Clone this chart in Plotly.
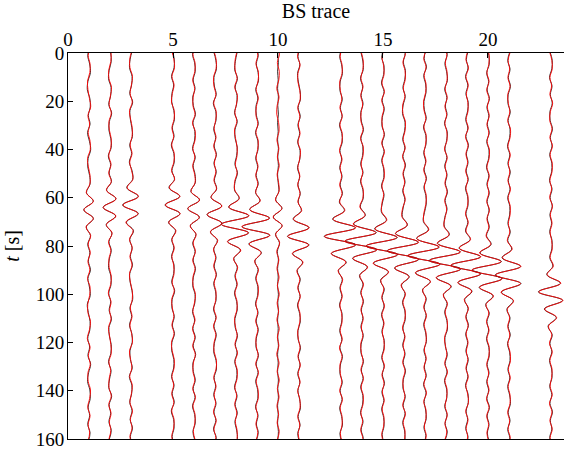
import plotly.graph_objects as go

# BS trace positions (traces 4, 12 and 22 absent)
positions = [1, 2, 3, 5, 6, 7, 8, 9, 10, 11, 13, 14, 15, 16, 17, 18, 19, 20, 21, 23]
# time of second sample of each trace [s]; samples every 160/45 s
t_offsets = [1.0, 0.0, 2.56, 2.56, 0.5, 3.0, 3.44, 0.89, 0.44, 1.33,
             1.33, 3.33, 1.78, 0.22, 2.22, 0.67, 2.67, 1.11, 3.11, 3.0]
sample_step = 160 / 45

# deflections in hundredths of trace spacing (black and red records)
black = [
    [4,-6,3,7,-5,-8,4,6,-3,5,-7,2,8,-4,-6,3, 5,-12,20,-25,21,-13,7, -6,4,-3,7,-5,2,6,-8,-3,5,4,-6,3,-5,8,-2,-7,4,6,-4,3,-6,5,-3],
    [-5,3,6,-4,-7,5,3,-6,8,-3,-5,4,6,-8,3,-4, 7,-16,28,-33,27,-18,9, -5,6,-3,-7,4,5,-6,3,-4,7,-5,-3,6,4,-7,5,-2,-6,8,-4,3,-5,6,-3],
    [6,-4,-7,5,3,-6,8,-5,-3,4,7,-6,3,-8,5, 8,-20,34,-40,35,-22,12,-6, 5,-3,7,-6,-4,5,8,-5,3,-7,4,6,-5,-3,6,-8,4,3,-6,5,-4,7,-3,5],
    [-4,6,5,-7,3,-5,-6,4,7,-3,5,-8,4,6,-5, 7,-19,32,-38,33,-21,12,-6, 4,-7,5,3,-6,8,-4,-5,6,-3,7,-5,-6,4,3,-7,5,-4,6,-8,3,5,-4,6],
    [5,-7,3,6,-4,5,-6,-3,7,-5,4,3,-7,6,-4,5, 6,-15,26,-30,26,-17,9, -6,5,-4,7,-3,-6,5,4,-7,3,-5,6,-4,8,-5,-3,6,-4,5,-7,3,6,-5,4],
    [-6,4,7,-5,-3,6,-8,4,5,-6,3,-4,7,-5,6,-3, 8,-19,32,-38,33,-21,11,-6, 5,-4,7,-6,3,5,-7,4,-5,6,-3,-6,5,7,-4,3,-6,5,-5,4,-7,6,-3],
    [5,-3,-6,7,-4,5,3,-7,6,-5,-4,6,3,-5,7,-4, -7,14,-35,60,-70,60,-39,21,-10, 6,-5,4,-7,3,6,-5,-4,7,-3,5,-6,4,3,-7,5,-4,6,-5,3,7,-4],
    [-4,6,-3,5,7,-6,4,-5,-3,6,-7,4,5,-6,3,-4,6, -7,14,-35,60,-70,60,-39,21,-10, 5,-6,4,3,-7,5,-4,6,-3,-5,7,-4,5,-6,3,4,-7,5,-3,6,-4],
    [2,-1,2,-2,1,-2,2,-1,2,-2,1,-2,2,-1,2,-2,1, 4,-11,19,-22,19,-12,7, -3,2,-2,1,-2,2,-1,2,-2,1,-1,2,-2,1,-2,2,-1,2,-2,1,-2,2,-1],
    [6,-5,4,-7,-3,5,7,-4,6,-5,3,-6,5,4,-7,3,-5,6,-4, 11,-28,47,-55,48,-30,17,-8, 6,-4,5,-7,3,6,-5,-4,7,-3,5,-6,4,-5,3,7,-4,5,-6,3],
    [5,-6,3,7,-4,-5,6,-3,5,-7,4,6,-5,3,-6,5,-4,7, -8,16,-40,68,-80,70,-45,25,-12, 6,-5,4,-7,5,3,-6,4,-5,7,-3,-5,6,-4,5,-6,3,7,-5,4],
    [-5,4,6,-7,3,-4,5,-6,-3,7,-5,4,3,-6,5,-7,4,6, -8,16,-40,68,-80,70,-45,25,-12, 5,-6,7,-3,4,-5,6,-4,-5,7,-3,5,-6,4,3,-7,5,-4,6,-5],
    [4,-6,5,3,-7,5,-4,6,-3,-5,7,-4,5,-6,3,4,-7,5,-3, -8,16,-40,68,-80,70,-45,25,-12, 6,-4,5,-7,3,-5,6,4,-6,5,-3,7,-5,4,-6,3,5,-4,6],
    [-6,5,-3,7,4,-5,6,-4,-7,5,3,-6,4,-5,7,-3,5,-6,4,-4, -8,16,-40,68,-80,70,-45,25,-12, 5,-7,4,6,-5,3,-6,5,-4,7,-3,-5,6,-4,5,-6,3,5],
    [5,-4,7,-6,3,5,-5,-3,6,-7,4,5,-6,3,-4,7,-5,4,6,-3, -8,16,-40,68,-80,70,-45,25,-12, 6,-4,5,-6,3,7,-5,4,-3,6,-7,5,-4,3,6,-5,4,-6],
    [-4,6,-5,3,7,-6,4,-3,5,-7,6,3,-5,4,-6,5,-3,7,-4,5,-6, -8,16,-40,68,-80,70,-45,25,-12, 5,-6,4,7,-5,-3,6,-4,5,-7,3,4,-6,5,-4,6,-5],
    [6,-3,5,-7,4,-5,6,3,-6,4,-5,7,-3,5,-4,6,-7,3,5,-5,4, -7,15,-38,64,-75,66,-42,24,-11, 5,-4,7,-6,3,-5,6,-3,4,-7,5,6,-4,3,-6,5,-3],
    [-5,4,6,-6,3,-4,7,-5,4,-3,6,-6,5,3,-7,4,-5,6,-4,5,-3,6, -7,15,-38,64,-75,66,-42,24,-11, 6,-5,3,-7,4,6,-4,5,-6,3,-5,7,-4,5,-3,6],
    [4,-6,5,-3,7,-4,-5,6,-4,5,3,-7,4,-5,6,-3,5,-6,4,3,-5,6, -6,13,-33,55,-65,57,-36,20,-10, 5,-4,6,-7,3,5,-5,4,-6,3,7,-4,5,-6,4,-3],
    [-5,6,4,-7,5,-3,6,-5,-4,7,-3,5,-6,4,3,-7,5,-4,6,-5,3,-6,5,4,-6, 9,-20,45,-60,55,-32,25,-14, 6,-5,4,-7,3,5,-6,4,-5,7,-3,4,-6,5],
]
red = [
    [6,-4,5,4,-7,-5,2,8,-5,3,-4,5,6,-7,-3,5, 4,-13,21,-24,20,-14,8, -4,6,-5,4,-7,5,3,-6,-5,7,2,-8,5,-3,6,-5,-4,7,3,-6,5,-4,3,-5],
    [-3,5,4,-6,-5,7,2,-4,6,-5,-3,6,4,-6,5,-6, 6,-17,29,-32,28,-17,10, -7,4,-5,-4,6,3,-8,5,-2,5,-7,-2,4,6,-5,3,-4,-5,6,-6,5,-3,4,-5],
    [4,-6,-5,7,2,-4,6,-7,-2,6,5,-4,5,-6,3, 9,-18,36,-38,33,-24,10,-7, 6,-5,5,-7,-3,6,6,-3,5,-5,3,7,-7,-2,4,-6,6,2,-5,7,-3,5,-5,4],
    [-6,4,7,-5,5,-3,-7,6,5,-5,3,-6,6,4,-7, 8,-17,33,-36,34,-20,14,-5, 6,-5,3,5,-4,6,-6,-3,4,-5,5,-7,-4,6,5,-5,3,-6,4,-6,5,3,-6,4],
    [7,-5,5,4,-6,3,-4,-5,5,-7,6,5,-5,4,-6,3, 5,-14,27,-29,25,-18,10, -4,7,-6,5,-5,-4,7,2,-5,5,-7,4,-6,6,-3,-5,4,-6,7,-5,5,4,-3,6],
    [-4,6,5,-7,-5,4,-6,6,3,-4,5,-6,5,-3,4,-5, 7,-18,33,-37,32,-22,13,-7, 3,-6,5,-4,5,3,-5,6,-7,4,-5,-4,7,5,-6,5,-4,3,-7,6,-5,4,-5],
    [3,-5,-4,5,-6,7,2,-5,4,-7,-2,5,5,-3,5,-6, -6,16,-34,62,-69,59,-41,23,-12, 8,-3,6,-5,5,4,-7,-2,5,-5,7,-4,6,5,-5,3,-6,4,-3,5,5,-6],
    [-6,4,-5,7,5,-4,6,-3,-5,4,-5,6,3,-4,5,-6,4, -6,15,-34,59,-72,62,-37,19,-11, 7,-4,6,5,-5,3,-6,4,-5,-3,5,-6,7,-4,5,6,-5,3,-5,4,-6],
    [-5,7,-3,6,4,-6,5,-4,-6,3,5,-5,4,-3,6,-4,3, 5,-12,18,-23,20,-11,8, -6,4,-5,5,-3,6,-4,3,-5,6,-3,4,-6,5,-4,6,-3,5,-5,3,-4,6,-4],
    [4,-7,5,-5,-5,4,6,-6,4,-3,5,-5,7,3,-5,4,-6,5,-5, 13,-26,49,-54,46,-32,19,-10, 4,-6,6,-5,5,4,-6,-3,5,-5,6,-4,5,-6,4,5,-6,4,-4,5],
    [7,-4,5,5,-6,-3,4,-5,6,-5,6,4,-7,5,-4,3,-6,5, -6,18,-38,70,-78,68,-47,23,-14, 8,-3,6,-5,3,5,-4,6,-7,5,-5,-3,4,-6,7,-4,5,5,-3,6],
    [-3,6,4,-5,5,-6,3,-4,-5,5,-7,6,5,-4,3,-5,6,4, -10,14,-42,66,-82,71,-43,27,-10, 7,-4,5,-5,6,-3,4,-6,-3,5,-5,7,-4,6,5,-5,3,-6,4,-3],
    [6,-4,3,5,-5,7,-6,4,-5,-3,5,-6,7,-4,5,6,-5,3,-5, -6,18,-38,66,-81,69,-47,27,-10, 4,-6,7,-5,5,-3,4,6,-4,7,-5,5,-3,6,-4,5,3,-6,4],
    [-4,7,-5,5,6,-3,4,-6,-5,7,5,-4,6,-7,5,-5,3,-4,6,-6, -10,15,-41,70,-79,68,-44,23,-14, 7,-5,6,4,-7,5,-4,3,-6,5,-5,-3,4,-6,7,-4,5,3],
    [7,-6,5,-4,5,3,-7,-5,4,-5,6,3,-4,5,-6,5,-3,6,4,-5, -6,18,-39,66,-82,72,-46,26,-11, 4,-6,7,-4,5,5,-3,6,-5,4,-5,7,-6,5,4,-3,6,-4],
    [-6,4,-3,5,5,-4,6,-5,3,-5,4,5,-7,6,-4,3,-5,5,-6,3,-4, -10,14,-42,69,-78,68,-47,23,-13, 7,-4,6,5,-7,-2,4,-6,7,-5,5,3,-4,6,-5,4,-7],
    [4,-5,7,-5,6,-3,4,5,-4,6,-7,5,-5,3,-6,4,-5,5,3,-7,6, -5,17,-36,66,-77,64,-44,22,-13, 7,-6,5,-4,5,-3,4,-5,6,-5,3,7,-6,5,-4,3,-5],
    [-3,6,4,-5,5,-6,5,-3,6,-5,4,-4,7,5,-5,6,-3,4,-6,7,-5,4, -9,13,-40,62,-77,68,-40,26,-9, 4,-7,5,-5,6,4,-6,3,-4,5,-7,5,-6,3,-5,4],
    [6,-4,3,-5,5,-6,-3,4,-6,7,5,-5,6,-3,4,-5,7,-4,6,5,-3,4, -8,15,-31,57,-63,55,-38,22,-8, 3,-6,4,-5,5,7,-3,6,-4,5,5,-6,3,-4,6,-5],
    [-7,4,6,-5,3,-5,8,-3,-6,5,-5,7,-4,6,5,-5,3,-6,7,-3,5,-4,3,6,-4, 11,-18,47,-58,57,-30,27,-12, 4,-7,6,-5,5,3,-4,6,-7,5,-5,6,-4,3],
]

x_ticks = [0, 5, 10, 15, 20]
t_ticks = [0, 20, 40, 60, 80, 100, 120, 140, 160]

fig = go.Figure()
for pos, t0, b_vals, r_vals in zip(positions, t_offsets, black, red):
    for vals, col in ((b_vals, "#1e1e1e"), (r_vals, "#ff0000")):
        tt = [t0 + sample_step * (i - 1) for i in range(len(vals))]
        xx = [pos + v / 100 for v in vals]
        fig.add_trace(go.Scatter(
            x=xx, y=tt, mode="lines",
            line=dict(color=col, width=0.9, shape="spline", smoothing=1),
            hoverinfo="skip", showlegend=False))

font_family = "Liberation Serif, Times New Roman, serif"
fig.update_layout(
    width=564, height=450,
    margin=dict(l=68, r=0, t=53, b=8),
    paper_bgcolor="white", plot_bgcolor="white",
    font=dict(family=font_family, size=19, color="black"),
    xaxis=dict(
        range=[0, 23.62], side="top", tickvals=x_ticks,
        ticks="inside", ticklen=5, tickwidth=1, tickcolor="black",
        ticklabelstandoff=-2,
        showline=True, linecolor="black", linewidth=1, mirror=True,
        showgrid=False, zeroline=False,
        title=dict(text="BS trace", font=dict(size=20), standoff=6),
    ),
    yaxis=dict(
        range=[160, 0], tickvals=t_ticks,
        ticks="inside", ticklen=5, tickwidth=1, tickcolor="black",
        ticklabelstandoff=-1, ticklabeloverflow="allow",
        showline=True, linecolor="black", linewidth=1, mirror=False,
        showgrid=False, zeroline=False,
        title=dict(text="<i>t</i> [s]", font=dict(size=20), standoff=10),
    ),
)

fig.write_html("out.html")
